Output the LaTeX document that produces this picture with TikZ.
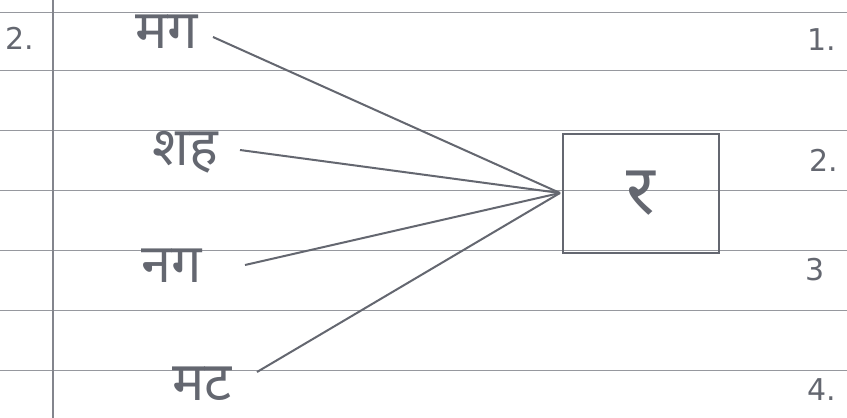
\documentclass[tikz,border=0pt]{standalone}
\usepackage{fontspec}
\newfontfamily\deva[Script=Devanagari]{Noto Sans}
\setmainfont{DejaVu Sans}
\definecolor{pencil}{RGB}{100,103,112}
\definecolor{rule}{RGB}{150,152,158}
\begin{document}
\begin{tikzpicture}[x=1pt,y=-1pt,
  ruleline/.style={draw=rule,line width=0.8pt},
  conn/.style={draw=pencil,line width=2pt},
  word/.style={text=pencil,font=\deva\fontsize{54}{54}\selectfont,inner sep=0pt},
  num/.style={text=pencil,font=\fontsize{30}{30}\selectfont,inner sep=0pt}]
\useasboundingbox (0,0) rectangle (847,418);
\fill[white] (0,0) rectangle (847,418);
% ruled lines
\foreach \yy in {12,70,130,190,250,310,370}{
  \draw[ruleline] (0,\yy) -- (847,\yy);
}
\draw[draw=pencil!80,line width=1.6pt] (53,0) -- (53,418);
% words
\node[word] (mg) at (167,32) {मग};
\node[word] (sh) at (185,152) {शह};
\node[word] (ng) at (172,266) {नग};
\node[word] (mt) at (202,384) {मट};
% box
\node[draw=pencil,line width=2.6pt,minimum width=156pt,minimum height=119pt,inner sep=0pt,
  text=pencil,font=\deva\fontsize{70}{70}\selectfont] (r) at (641,193.5) {र};
\coordinate (hub) at (560,193);
\coordinate (amg) at (213,37);
\coordinate (ash) at (240,150);
\coordinate (ang) at (245,265);
\coordinate (amt) at (257,372);
\draw[conn] (amg) -- (hub);
\draw[conn] (ash) -- (hub);
\draw[conn] (ang) -- (hub);
\draw[conn] (amt) -- (hub);
% numbers
\node[num] (l2) at (20,38) {2.};
\node[num] (n1) at (822,40) {1.};
\node[num] (n2) at (824,160) {2.};
\node[num] (n3) at (815,270) {3};
\node[num] (n4) at (822,390) {4.};
\end{tikzpicture}
\end{document}
